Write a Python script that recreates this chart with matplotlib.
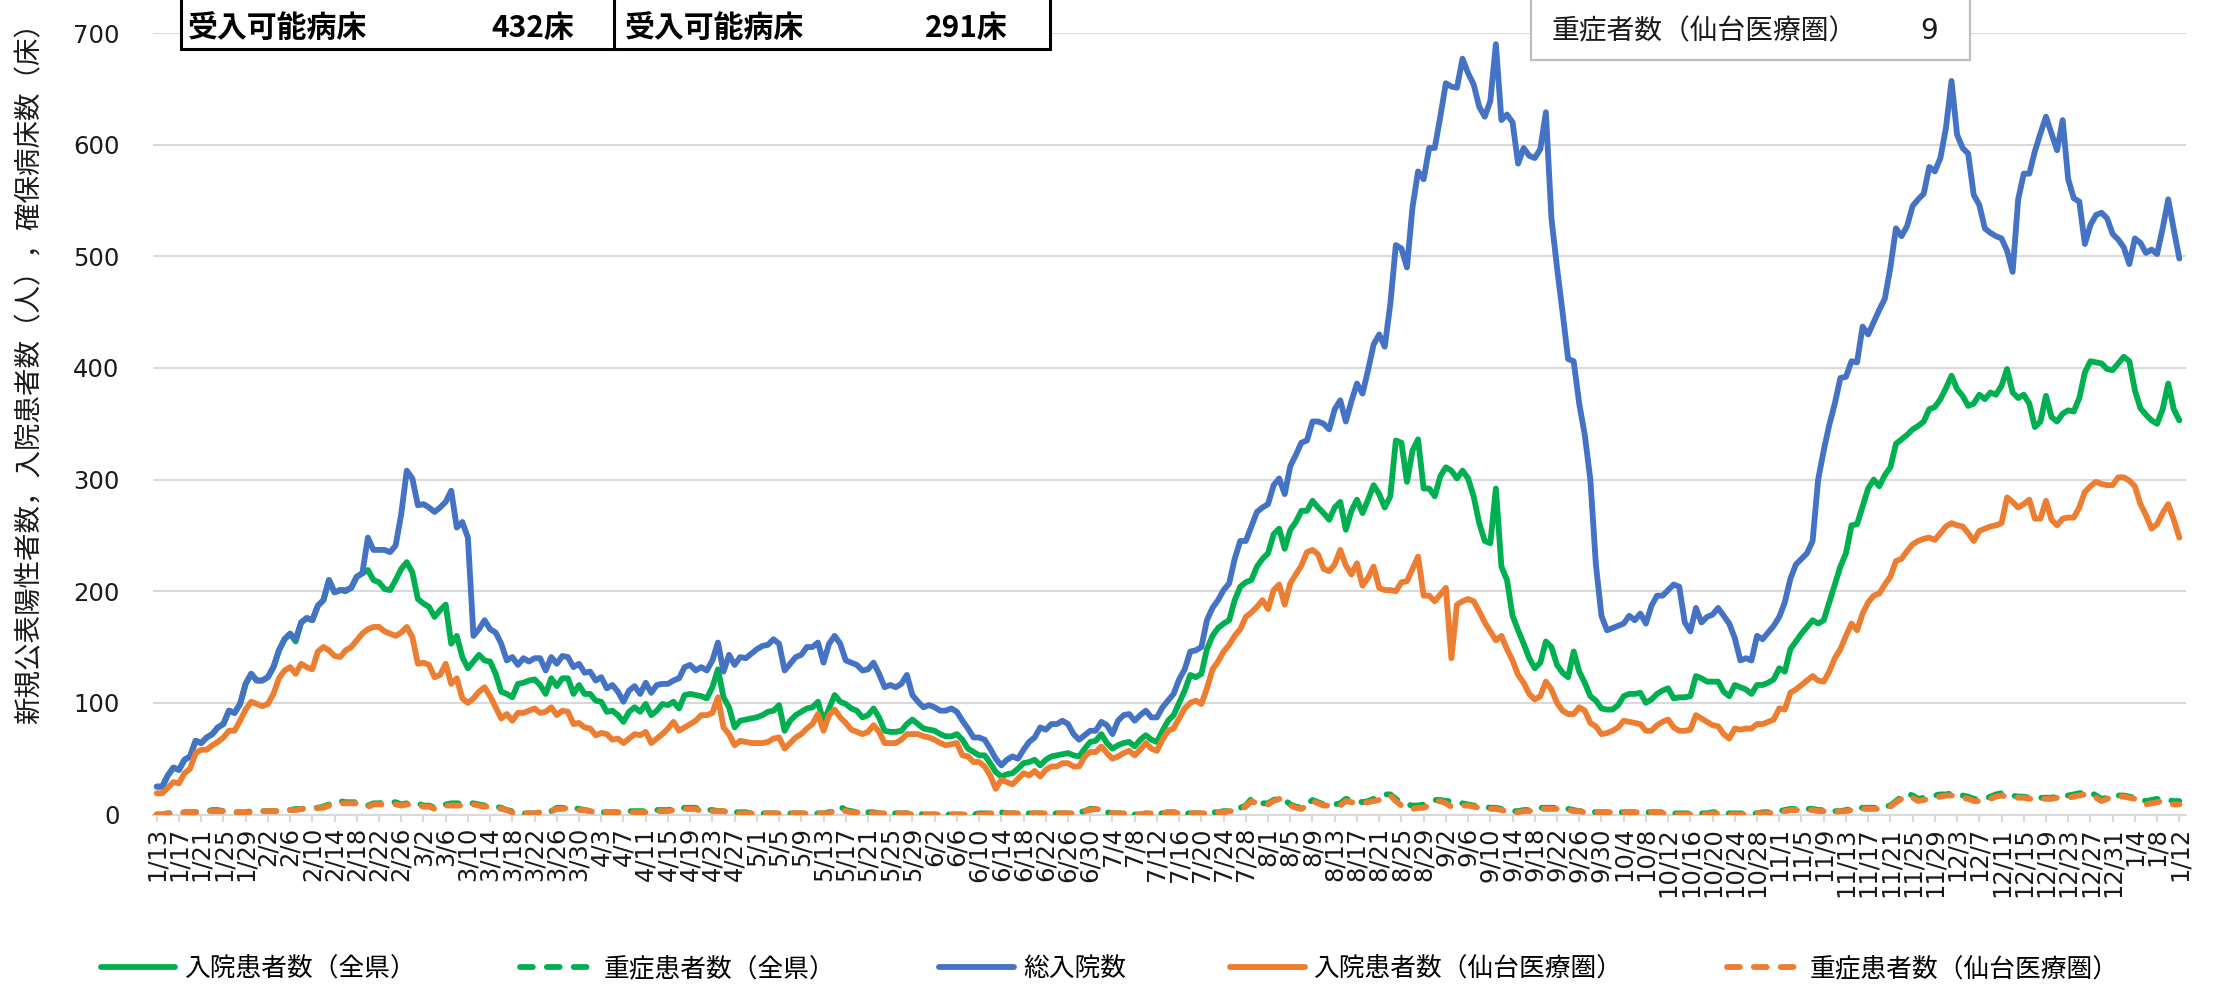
import matplotlib
matplotlib.use("Agg")
import matplotlib.pyplot as plt
from matplotlib.patches import Rectangle
from matplotlib.lines import Line2D
from matplotlib.font_manager import FontProperties
import pandas as pd

# ---------------- data ----------------
start_date = "2021-01-13"
n_days = 365
tick_step = 4

total_inpatients = [
    25, 25, 35, 42, 40, 49, 52, 66, 64, 69,
    72, 78, 81, 93, 91, 99, 117, 126, 120, 120,
    123, 132, 147, 157, 162, 157, 172, 176, 174, 187,
    192, 210, 199, 201, 201, 203, 213, 216, 248, 237,
    237, 237, 235, 241, 269, 308, 301, 277, 278, 275,
    271, 275, 280, 290, 257, 262, 248, 160, 166, 174,
    166, 163, 153, 138, 141, 134, 140, 137, 140, 140,
    129, 141, 135, 142, 141, 132, 135, 127, 128, 120,
    123, 113, 116, 110, 101, 111, 115, 108, 118, 109,
    116, 117, 117, 120, 122, 132, 134, 129, 132, 129,
    138, 154, 128, 143, 134, 141, 140, 144, 148, 151,
    152, 157, 153, 129, 135, 141, 143, 150, 150, 154,
    136, 153, 160, 153, 138, 136, 134, 129, 130, 136,
    126, 114, 116, 114, 117, 125, 107, 101, 96, 98,
    96, 93, 93, 95, 92, 84, 77, 69, 69, 67,
    59, 50, 44, 49, 52, 50, 58, 65, 69, 78,
    76, 81, 81, 84, 81, 72, 67, 71, 75, 75,
    83, 80, 72, 84, 89, 90, 84, 89, 93, 87,
    87, 96, 102, 108, 121, 130, 146, 147, 150, 174,
    185, 192, 201, 207, 229, 245, 245, 258, 271, 275,
    278, 295, 301, 287, 312, 322, 333, 335, 352, 352,
    350, 345, 363, 371, 352, 370, 386, 377, 398, 421,
    430, 419, 457, 510, 507, 490, 544, 576, 569, 597,
    597, 625, 655, 652, 651, 677, 664, 654, 634, 625,
    639, 690, 622, 627, 620, 583, 597, 590, 588, 596,
    629, 534, 490, 450, 408, 406, 368, 340, 300, 224,
    178, 165, 167, 169, 171, 178, 174, 180, 171, 187,
    196, 196, 201, 206, 204, 172, 164, 185, 172, 177,
    179, 185, 178, 171, 158, 138, 140, 138, 160, 157,
    163, 169, 177, 190, 211, 224, 229, 234, 245, 300,
    326, 349, 368, 391, 392, 406, 405, 437, 430, 441,
    452, 462, 490, 525, 518, 527, 545, 551, 556, 580,
    576, 588, 615, 657, 609, 597, 592, 555, 546, 525,
    521, 518, 516, 505, 486, 551, 574, 574, 594, 610,
    625, 610, 595, 622, 569, 552, 549, 511, 528, 537,
    539, 534, 520, 515, 508, 493, 516, 512, 503, 506,
    502, 525, 551, 524, 498,
]

inpatients_pref = [
    25, 25, 35, 42, 40, 49, 52, 66, 64, 69,
    72, 78, 81, 93, 91, 99, 117, 126, 120, 120,
    123, 132, 147, 157, 162, 155, 172, 176, 174, 187,
    192, 210, 199, 201, 200, 203, 213, 216, 219, 210,
    208, 202, 201, 210, 220, 226, 217, 193, 189, 186,
    177, 183, 188, 153, 160, 141, 131, 137, 143, 138,
    137, 126, 110, 108, 105, 117, 118, 120, 121, 116,
    108, 122, 115, 122, 122, 108, 116, 108, 108, 102,
    101, 92, 93, 89, 83, 92, 96, 92, 99, 89,
    93, 99, 98, 101, 95, 107, 108, 107, 106, 104,
    114, 130, 105, 96, 78, 84, 85, 86, 87, 89,
    92, 93, 98, 75, 84, 89, 92, 95, 96, 101,
    83, 95, 107, 101, 99, 95, 93, 87, 89, 95,
    87, 75, 74, 74, 75, 81, 85, 81, 77, 76,
    75, 72, 70, 70, 72, 67, 59, 56, 53, 53,
    46, 38, 34, 36, 37, 41, 46, 47, 49, 44,
    49, 52, 53, 54, 55, 53, 52, 59, 65, 66,
    72, 64, 59, 62, 64, 65, 61, 67, 71, 67,
    65, 75, 84, 89, 100, 111, 125, 123, 126, 148,
    160, 167, 171, 174, 192, 204, 208, 210, 222, 229,
    234, 251, 256, 238, 255, 262, 272, 272, 281, 275,
    270, 264, 275, 280, 255, 272, 282, 270, 282, 295,
    287, 275, 285, 335, 333, 298, 326, 336, 292, 292,
    285, 303, 311, 308, 301, 308, 301, 285, 261, 245,
    243, 292, 222, 210, 178, 165, 153, 140, 131, 136,
    155, 150, 134, 127, 123, 146, 128, 118, 106, 102,
    95, 94, 94, 98, 106, 108, 108, 109, 100, 103,
    108, 111, 113, 104, 105, 105, 106, 124, 122, 119,
    119, 119, 110, 106, 116, 114, 112, 108, 116, 116,
    118, 121, 131, 128, 148, 155, 162, 168, 174, 171,
    174, 190, 206, 222, 234, 259, 260, 276, 292, 300,
    294, 304, 311, 332, 336, 340, 345, 348, 352, 363,
    365, 372, 382, 393, 381, 375, 366, 368, 376, 372,
    378, 376, 384, 399, 378, 373, 376, 368, 347, 352,
    375, 356, 352, 359, 362, 361, 373, 396, 406, 405,
    404, 399, 398, 404, 410, 406, 380, 364, 358, 353,
    350, 363, 386, 363, 353,
]

inpatients_sendai = [
    19, 19, 24, 29, 28, 37, 41, 55, 58, 58,
    62, 65, 69, 75, 75, 84, 94, 101, 99, 97,
    99, 108, 122, 129, 132, 126, 135, 132, 130, 146,
    150, 147, 142, 141, 147, 150, 156, 162, 166, 168,
    168, 164, 162, 160, 163, 168, 159, 135, 136, 134,
    123, 125, 135, 117, 122, 104, 100, 104, 110, 114,
    106, 96, 86, 90, 84, 91, 91, 93, 95, 91,
    92, 96, 89, 93, 92, 81, 82, 78, 77, 71,
    73, 72, 67, 68, 64, 68, 72, 71, 74, 64,
    68, 72, 77, 83, 75, 78, 81, 84, 89, 89,
    91, 105, 78, 72, 62, 66, 65, 64, 64, 64,
    65, 68, 69, 59, 64, 69, 72, 77, 81, 90,
    75, 89, 94, 87, 82, 76, 74, 72, 74, 80,
    74, 64, 64, 64, 67, 72, 72, 72, 70, 69,
    67, 64, 62, 63, 64, 53, 52, 47, 47, 43,
    35, 23, 31, 29, 27, 32, 37, 35, 39, 34,
    40, 43, 43, 46, 46, 43, 43, 52, 56, 56,
    61, 55, 50, 52, 55, 57, 53, 58, 64, 59,
    57, 67, 75, 77, 86, 95, 100, 102, 99, 113,
    130, 137, 146, 152, 160, 166, 177, 181, 186, 192,
    184, 201, 206, 188, 207, 215, 223, 235, 237, 233,
    220, 218, 224, 237, 223, 215, 225, 205, 212, 222,
    203, 201, 201, 200, 208, 209, 220, 231, 196, 196,
    191, 197, 203, 140, 188, 191, 193, 191, 182, 172,
    164, 156, 160, 148, 138, 125, 118, 108, 103, 106,
    119, 112, 100, 93, 90, 90, 96, 93, 82, 79,
    72, 73, 75, 78, 84, 83, 82, 81, 75, 75,
    80, 83, 85, 78, 75, 75, 76, 89, 86, 83,
    80, 79, 72, 68, 77, 76, 77, 77, 81, 81,
    83, 85, 95, 94, 109, 112, 116, 120, 124, 120,
    119, 128, 140, 148, 160, 171, 165, 180, 190, 196,
    198, 206, 213, 227, 229, 236, 242, 245, 247, 248,
    246, 252, 258, 261, 259, 258, 252, 245, 254, 256,
    258, 259, 261, 284, 280, 275, 278, 282, 265, 265,
    281, 264, 259, 265, 266, 266, 275, 289, 294, 298,
    296, 295, 295, 302, 302, 299, 294, 278, 268, 256,
    260, 270, 278, 264, 248,
]

severe_pref = [
    0, 0, 1, 1, 1,
    2, 2, 2, 3, 3, 4, 4, 3,
    2, 2, 2, 2, 3,
    3, 3, 3, 3, 3, 4, 4,
    5, 5, 6, 6, 6, 7, 9,
    12, 12, 11, 11, 11, 10,
    8, 10, 10,
    11, 11, 11, 9, 10, 10, 10,
    8, 8, 6, 6,
    9, 10, 10, 10, 10, 10, 9,
    8, 7, 7, 6, 4, 3,
    2, 1, 1, 1, 2, 3, 3,
    6, 6, 6, 6, 5,
    4, 3, 3, 2, 2, 2, 2, 2, 3,
    3, 3, 3, 3, 4, 4, 4, 5, 5, 6,
    6, 6, 4, 4, 4, 3, 3, 2,
    2, 2, 2, 1, 1, 1, 1, 1, 1, 1, 1, 1, 1, 1, 1, 1, 1, 2,
    5, 7, 4, 3,
    2, 2, 2, 2, 1, 1, 1, 1, 1, 1,
    1, 1, 0, 0, 0, 0, 0, 0, 0, 0, 0, 0, 1, 1,
    1, 2, 2,
    1, 1, 1, 1, 1, 1, 1, 1, 1, 1, 1, 1, 1,
    2, 3, 5, 5, 4, 2,
    1, 1, 1, 1, 0, 0, 1, 1, 1, 1, 2,
    2, 2, 1, 1, 1, 1, 1, 2, 2, 3, 3, 4, 6,
    8, 14, 12, 10, 10, 13, 15, 13, 9, 7,
    6, 9, 13, 11, 9, 9, 9, 10, 14, 13,
    12, 11, 12, 14, 15, 18, 18, 14, 10, 9,
    8, 8, 9, 10, 13, 13, 12, 12, 11, 10,
    9, 8, 7, 7, 6, 6, 5, 4, 3, 3,
    4, 4, 5, 6, 6, 6, 6, 5, 5, 4, 3,
    3, 3, 2, 2, 2, 2, 2, 2, 2, 2, 2, 2, 2, 2,
    2, 1, 1, 1, 1, 1,
    1, 1, 1, 2, 2, 1, 1, 1, 1, 1, 1, 1, 2,
    2, 2, 3, 4, 5, 5, 5, 5, 5, 4,
    4, 3, 3, 3, 4, 5, 6,
    6, 6, 6, 6, 7, 8,
    12, 16, 19, 17, 14, 15, 16, 17,
    18, 18, 19, 18, 17, 16, 14, 14, 14, 16,
    18, 19, 18, 17, 16, 16, 15, 15, 15, 15,
    15, 16, 17, 17, 18, 19, 20, 20, 17, 14,
    15, 17, 17, 17, 16, 15, 14, 12, 13, 14, 14, 13, 12, 12,
]

severe_sendai = [
    0, 0, 1, 1, 1,
    2, 2, 2, 2, 3, 3, 3, 3,
    2, 2, 2, 2, 2,
    3, 3, 3, 3, 3, 3, 4,
    4, 5, 5, 5, 6, 6, 8,
    10, 10, 10, 10, 10, 9,
    7, 9, 9,
    9, 9, 9, 8, 9, 9, 9,
    7, 7, 5, 5,
    8, 8, 8, 8, 9, 9, 8,
    7, 7, 6, 5, 4, 2,
    1, 1, 1, 1, 2, 2, 3,
    5, 5, 6, 5, 4,
    4, 3, 2, 2, 2, 2, 2, 2, 2,
    2, 2, 2, 3, 3, 3, 3, 4, 4, 5,
    5, 5, 3, 3, 3, 3, 3, 2,
    1, 1, 1, 1, 1, 1, 1, 1, 1, 1, 1, 1, 1, 1, 1, 1, 1, 1,
    4, 5, 3, 2,
    2, 2, 2, 1, 1, 1, 1, 1, 1, 1,
    0, 0, 0, 0, 0, 0, 0, 0, 0, 0, 0, 0, 0, 0,
    1, 2, 2,
    1, 1, 1, 1, 1, 1, 1, 1, 1, 1, 1, 1, 1,
    2, 3, 4, 5, 4, 2,
    1, 1, 1, 0, 0, 0, 1, 1, 1, 1, 2,
    2, 1, 1, 1, 1, 1, 1, 1, 2, 2, 3, 3, 5,
    7, 12, 10, 9, 9, 12, 14, 12, 8, 6,
    5, 8, 12, 10, 8, 8, 8, 8, 12, 11,
    10, 10, 11, 12, 13, 16, 17, 12, 8, 5,
    5, 6, 6, 8, 11, 12, 10, 7, 7, 8,
    8, 7, 6, 6, 5, 5, 4, 3, 2, 2,
    3, 3, 4, 5, 5, 5, 5, 5, 4, 3, 3,
    2, 2, 2, 2, 2, 2, 2, 2, 2, 2, 2, 2, 2, 2,
    1, 1, 1, 0, 0, 0,
    0, 0, 0, 1, 1, 0, 0, 0, 0, 0, 1, 1, 1,
    1, 2, 2, 3, 4, 4, 4, 4, 4, 3,
    3, 2, 2, 3, 3, 4, 5,
    5, 5, 5, 5, 6, 7,
    11, 14, 17, 15, 12, 13, 14, 15,
    16, 17, 17, 16, 15, 14, 12, 12, 12, 14,
    16, 17, 16, 16, 15, 15, 14, 14, 14, 14,
    14, 15, 15, 15, 16, 17, 18, 18, 15, 12,
    14, 16, 16, 16, 15, 14, 12, 9, 10, 11, 12, 10, 9, 9,
]

series_names = ["入院患者数（全県）", "重症患者数（全県）", "総入院数",
                "入院患者数（仙台医療圏）", "重症患者数（仙台医療圏）"]
series_colors = ["#00b050", "#00b050", "#4472c4", "#ed7d31", "#ed7d31"]
series_dashed = [False, True, False, False, True]

y_ticks = [0, 100, 200, 300, 400, 500, 600, 700]
y_label = "新規公表陽性者数，入院患者数（人），確保病床数（床）"
box_labels = ["受入可能病床", "受入可能病床"]
box_values = ["432床", "291床"]
info_label = "重症者数（仙台医療圏）"
info_value = "9"

for s in (total_inpatients, inpatients_pref, inpatients_sendai, severe_pref, severe_sendai):
    assert len(s) == n_days, len(s)

# ---------------- figure ----------------
W, H = 2221, 985
CJK = "Noto Sans CJK JP"
plt.rcParams["font.family"] = ["DejaVu Sans", CJK]

fig = plt.figure(figsize=(W / 100, H / 100), dpi=100)
ax_left, ax_right, ax_top, ax_bot = 153, 2186, 33, 814.5
ax = fig.add_axes([ax_left / W, 1 - ax_bot / H, (ax_right - ax_left) / W, (ax_bot - ax_top) / H])

dates = pd.date_range(start_date, periods=n_days, freq="D")
x = list(range(n_days))
values = [inpatients_pref, severe_pref, total_inpatients, inpatients_sendai, severe_sendai]

LW = 4.2
handles = []
for vals, name, col, dashed in zip(values, series_names, series_colors, series_dashed):
    kw = dict(color=col, lw=LW, solid_joinstyle="round", solid_capstyle="round")
    if dashed:
        kw.update(dashes=(2.2, 2.4), dash_capstyle="round", dash_joinstyle="round")
    ax.plot(x, vals, zorder=3, **kw)
    handles.append(Line2D([], [], **kw))

ax.set_xlim(-0.67, 365.2)
ax.set_ylim(0, 700)
ax.set_yticks(y_ticks)
ax.yaxis.grid(True, color="#d9d9d9", lw=1.5)
ax.set_axisbelow(True)
for side in ("top", "right", "left"):
    ax.spines[side].set_visible(False)
ax.spines["bottom"].set_color("#d9d9d9")
ax.spines["bottom"].set_linewidth(1.5)

tick_pos = list(range(0, n_days, tick_step))
tick_lab = [f"{dates[i].month}/{dates[i].day}" for i in tick_pos]
ax.set_xticks(tick_pos)
ax.set_xticklabels(tick_lab, rotation=90, fontsize=17.5, color="#1a1a1a", family="DejaVu Sans")
ax.tick_params(axis="x", length=5, width=1.5, color="#d9d9d9", pad=4)
ax.tick_params(axis="y", length=0, pad=24, labelsize=17.5, labelcolor="#1a1a1a")

# y label
fig.text(30 / W, 1 - 366 / H, y_label, rotation=90, ha="center", va="center",
         fontsize=19.8, family=CJK, color="#1a1a1a")

# legend
fig.legend(handles, series_names, loc="center", bbox_to_anchor=(1110 / W, 1 - 969 / H),
           ncol=5, frameon=False, prop=FontProperties(family=CJK, size=18.5),
           handlelength=2.9, handletextpad=0.35, columnspacing=4.05)

# top-left boxes
bx0, bdiv, bx1, bbot = 181, 614, 1050, 49
fig.add_artist(Rectangle((bx0 / W, 1 - bbot / H), (bx1 - bx0) / W, 0.2, transform=fig.transFigure,
                         fc="white", ec="black", lw=2.2, zorder=10))
fig.add_artist(Line2D([bdiv / W, bdiv / W], [1 - bbot / H, 1.05], transform=fig.transFigure,
                      color="black", lw=2.2, zorder=11))
ty = 1 - 28 / H
for lab_x, val_x, lab, val in zip([188, 625], [574, 1008], box_labels, box_values):
    fig.text(lab_x / W, ty, lab, ha="left", va="center", fontsize=21.5, fontweight="bold",
             family=CJK, color="black", zorder=12)
    fig.text(val_x / W, ty, val, ha="right", va="center", fontsize=21.5, fontweight="bold",
             family=CJK, color="black", zorder=12)

# top-right info box
ix0, ix1, ibot = 1531, 1970, 60
fig.add_artist(Rectangle((ix0 / W, 1 - ibot / H), (ix1 - ix0) / W, 0.2, transform=fig.transFigure,
                         fc="white", ec="#bfbfbf", lw=1.6, zorder=10))
fig.text(1552 / W, 1 - 31 / H, info_label, ha="left", va="center", fontsize=20,
         family=CJK, color="#1a1a1a", zorder=12)
fig.text(1929 / W, 1 - 31 / H, info_value, ha="center", va="center", fontsize=20,
         family="DejaVu Sans", color="#1a1a1a", zorder=12)

fig.savefig("out.png", dpi=100)
